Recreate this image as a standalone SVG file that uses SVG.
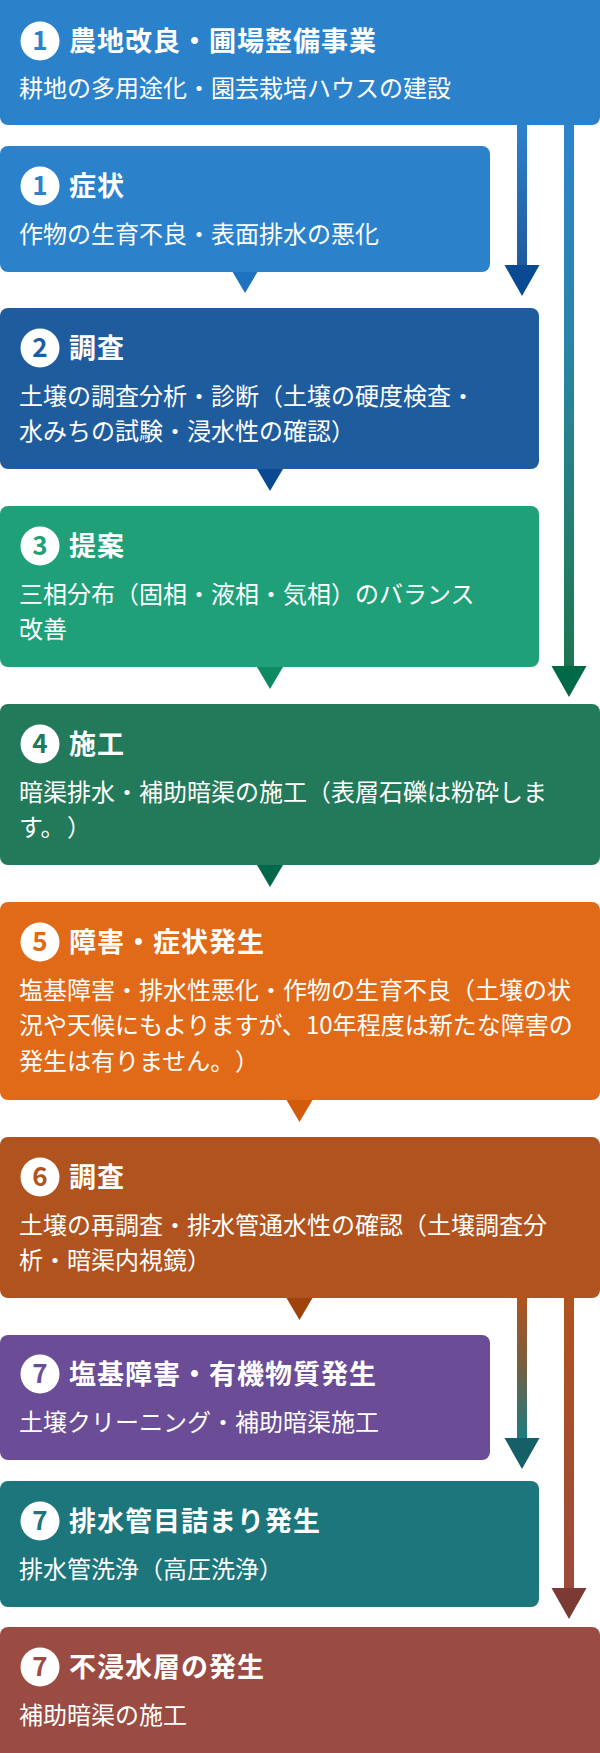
<svg xmlns="http://www.w3.org/2000/svg" width="600" height="1753" viewBox="0 0 600 1753">
<style>
.ttl{font-family:"Noto Sans CJK JP","Noto Sans",sans-serif;font-size:27px;font-weight:700;fill:#fff;letter-spacing:1px}
.bdy{font-family:"Noto Sans CJK JP","Noto Sans",sans-serif;font-size:24px;font-weight:400;fill:#fff}
.num{font-family:"Noto Sans CJK JP","Noto Sans",sans-serif;font-size:26px;font-weight:700;text-anchor:middle}
.dot{fill:#fff}
</style>
<defs>
<linearGradient id="gA" x1="0" y1="125" x2="0" y2="266" gradientUnits="userSpaceOnUse">
<stop offset="0" stop-color="#2d82cc"/><stop offset="1" stop-color="#1f5a9c"/>
</linearGradient>
<linearGradient id="gB" x1="0" y1="125" x2="0" y2="667" gradientUnits="userSpaceOnUse">
<stop offset="0" stop-color="#2e84cc"/><stop offset="0.4" stop-color="#2a84a8"/><stop offset="0.8" stop-color="#237d68"/><stop offset="1" stop-color="#1e7450"/>
</linearGradient>
<linearGradient id="gC" x1="0" y1="1298" x2="0" y2="1438" gradientUnits="userSpaceOnUse">
<stop offset="0" stop-color="#b0541e"/><stop offset="0.45" stop-color="#7a5e3e"/><stop offset="1" stop-color="#1c7b80"/>
</linearGradient>
<linearGradient id="gD" x1="0" y1="1298" x2="0" y2="1588" gradientUnits="userSpaceOnUse">
<stop offset="0" stop-color="#b0531e"/><stop offset="1" stop-color="#9c4a3c"/>
</linearGradient>
</defs>

<g id="connectors">
<rect x="517" y="120" width="10" height="147" fill="url(#gA)"/>
<polygon points="504.5,265 539.5,265 522,296" fill="#0a4a92"/>
<rect x="564" y="120" width="10" height="548" fill="url(#gB)"/>
<polygon points="551.5,666 586.5,666 569,697" fill="#006a48"/>
<polygon points="232,271 258,271 245,293" fill="#1e72bf"/>
<polygon points="257,469 283,469 270,491" fill="#0b4a93"/>
<polygon points="257,667 283,667 270,689" fill="#0e8a60"/>
<polygon points="257,865 283,865 270,887" fill="#00684a"/>
<polygon points="286.5,1100 312.5,1100 299.5,1122" fill="#d35c0c"/>
<polygon points="286.5,1298 312.5,1298 299.5,1320" fill="#a0420c"/>
<rect x="517" y="1293" width="10" height="146" fill="url(#gC)"/>
<polygon points="504.5,1438 539.5,1438 522,1469" fill="#155f66"/>
<rect x="564" y="1293" width="10" height="296" fill="url(#gD)"/>
<polygon points="551.5,1588 586.5,1588 569,1619" fill="#7b3a33"/>
</g>

<g id="node1">
<rect x="0" y="-10" width="600" height="135" rx="8" fill="#2b82cb"/>
<circle class="dot" cx="40" cy="41" r="19.5"/>
<text class="num" x="40" y="50" fill="#2b82cb">1</text>
<text class="ttl" x="69" y="51">農地改良・圃場整備事業</text>
<text class="bdy" x="19" y="97">耕地の多用途化・園芸栽培ハウスの建設</text>
</g>

<g id="node2">
<rect x="0" y="146" width="490" height="126" rx="8" fill="#2b82cb"/>
<circle class="dot" cx="40" cy="186" r="19.5"/>
<text class="num" x="40" y="195" fill="#2b82cb">1</text>
<text class="ttl" x="69" y="196">症状</text>
<text class="bdy" x="19" y="243">作物の生育不良・表面排水の悪化</text>
</g>

<g id="node3">
<rect x="0" y="308" width="539" height="161" rx="8" fill="#1f5c9e"/>
<circle class="dot" cx="40" cy="348" r="19.5"/>
<text class="num" x="40" y="357" fill="#1f5c9e">2</text>
<text class="ttl" x="69" y="358">調査</text>
<text class="bdy" x="19" y="405">土壌の調査分析・診断（土壌の硬度検査・</text>
<text class="bdy" x="19" y="440">水みちの試験・浸水性の確認）</text>
</g>

<g id="node4">
<rect x="0" y="506" width="539" height="161" rx="8" fill="#1fa078"/>
<circle class="dot" cx="40" cy="546" r="19.5"/>
<text class="num" x="40" y="555" fill="#1fa078">3</text>
<text class="ttl" x="69" y="556">提案</text>
<text class="bdy" x="19" y="603">三相分布（固相・液相・気相）のバランス</text>
<text class="bdy" x="19" y="638">改善</text>
</g>

<g id="node5">
<rect x="0" y="704" width="600" height="161" rx="8" fill="#237a5a"/>
<circle class="dot" cx="40" cy="744" r="19.5"/>
<text class="num" x="40" y="753" fill="#237a5a">4</text>
<text class="ttl" x="69" y="754">施工</text>
<text class="bdy" x="19" y="801">暗渠排水・補助暗渠の施工（表層石礫は粉砕しま</text>
<text class="bdy" x="19" y="836">す。<tspan x="67">）</tspan></text>
</g>

<g id="node6">
<rect x="0" y="902" width="600" height="198" rx="8" fill="#e06a17"/>
<circle class="dot" cx="40" cy="942" r="19.5"/>
<text class="num" x="40" y="951" fill="#e06a17">5</text>
<text class="ttl" x="69" y="952">障害・症状発生</text>
<text class="bdy" x="19" y="999">塩基障害・排水性悪化・作物の生育不良（土壌の状</text>
<text class="bdy" x="19" y="1034">況や天候にもよりますが、10年程度は新たな障害の</text>
<text class="bdy" x="19" y="1070">発生は有りません。<tspan x="235">）</tspan></text>
</g>

<g id="node7">
<rect x="0" y="1137" width="600" height="161" rx="8" fill="#b0531e"/>
<circle class="dot" cx="40" cy="1177" r="19.5"/>
<text class="num" x="40" y="1186" fill="#b0531e">6</text>
<text class="ttl" x="69" y="1187">調査</text>
<text class="bdy" x="19" y="1234">土壌の再調査・排水管通水性の確認（土壌調査分</text>
<text class="bdy" x="19" y="1269">析・暗渠内視鏡）</text>
</g>

<g id="node8">
<rect x="0" y="1335" width="490" height="125" rx="8" fill="#6a4d96"/>
<circle class="dot" cx="40" cy="1374" r="19.5"/>
<text class="num" x="40" y="1383" fill="#6a4d96">7</text>
<text class="ttl" x="69" y="1384">塩基障害・有機物質発生</text>
<text class="bdy" x="19" y="1431">土壌クリーニング・補助暗渠施工</text>
</g>

<g id="node9">
<rect x="0" y="1481" width="539" height="126" rx="8" fill="#1c767c"/>
<circle class="dot" cx="40" cy="1521" r="19.5"/>
<text class="num" x="40" y="1530" fill="#1c767c">7</text>
<text class="ttl" x="69" y="1531">排水管目詰まり発生</text>
<text class="bdy" x="19" y="1578">排水管洗浄（高圧洗浄）</text>
</g>

<g id="node10">
<rect x="0" y="1627" width="600" height="136" rx="8" fill="#9a4b42"/>
<circle class="dot" cx="40" cy="1667" r="19.5"/>
<text class="num" x="40" y="1676" fill="#9a4b42">7</text>
<text class="ttl" x="69" y="1677">不浸水層の発生</text>
<text class="bdy" x="19" y="1724">補助暗渠の施工</text>
</g>
</svg>
